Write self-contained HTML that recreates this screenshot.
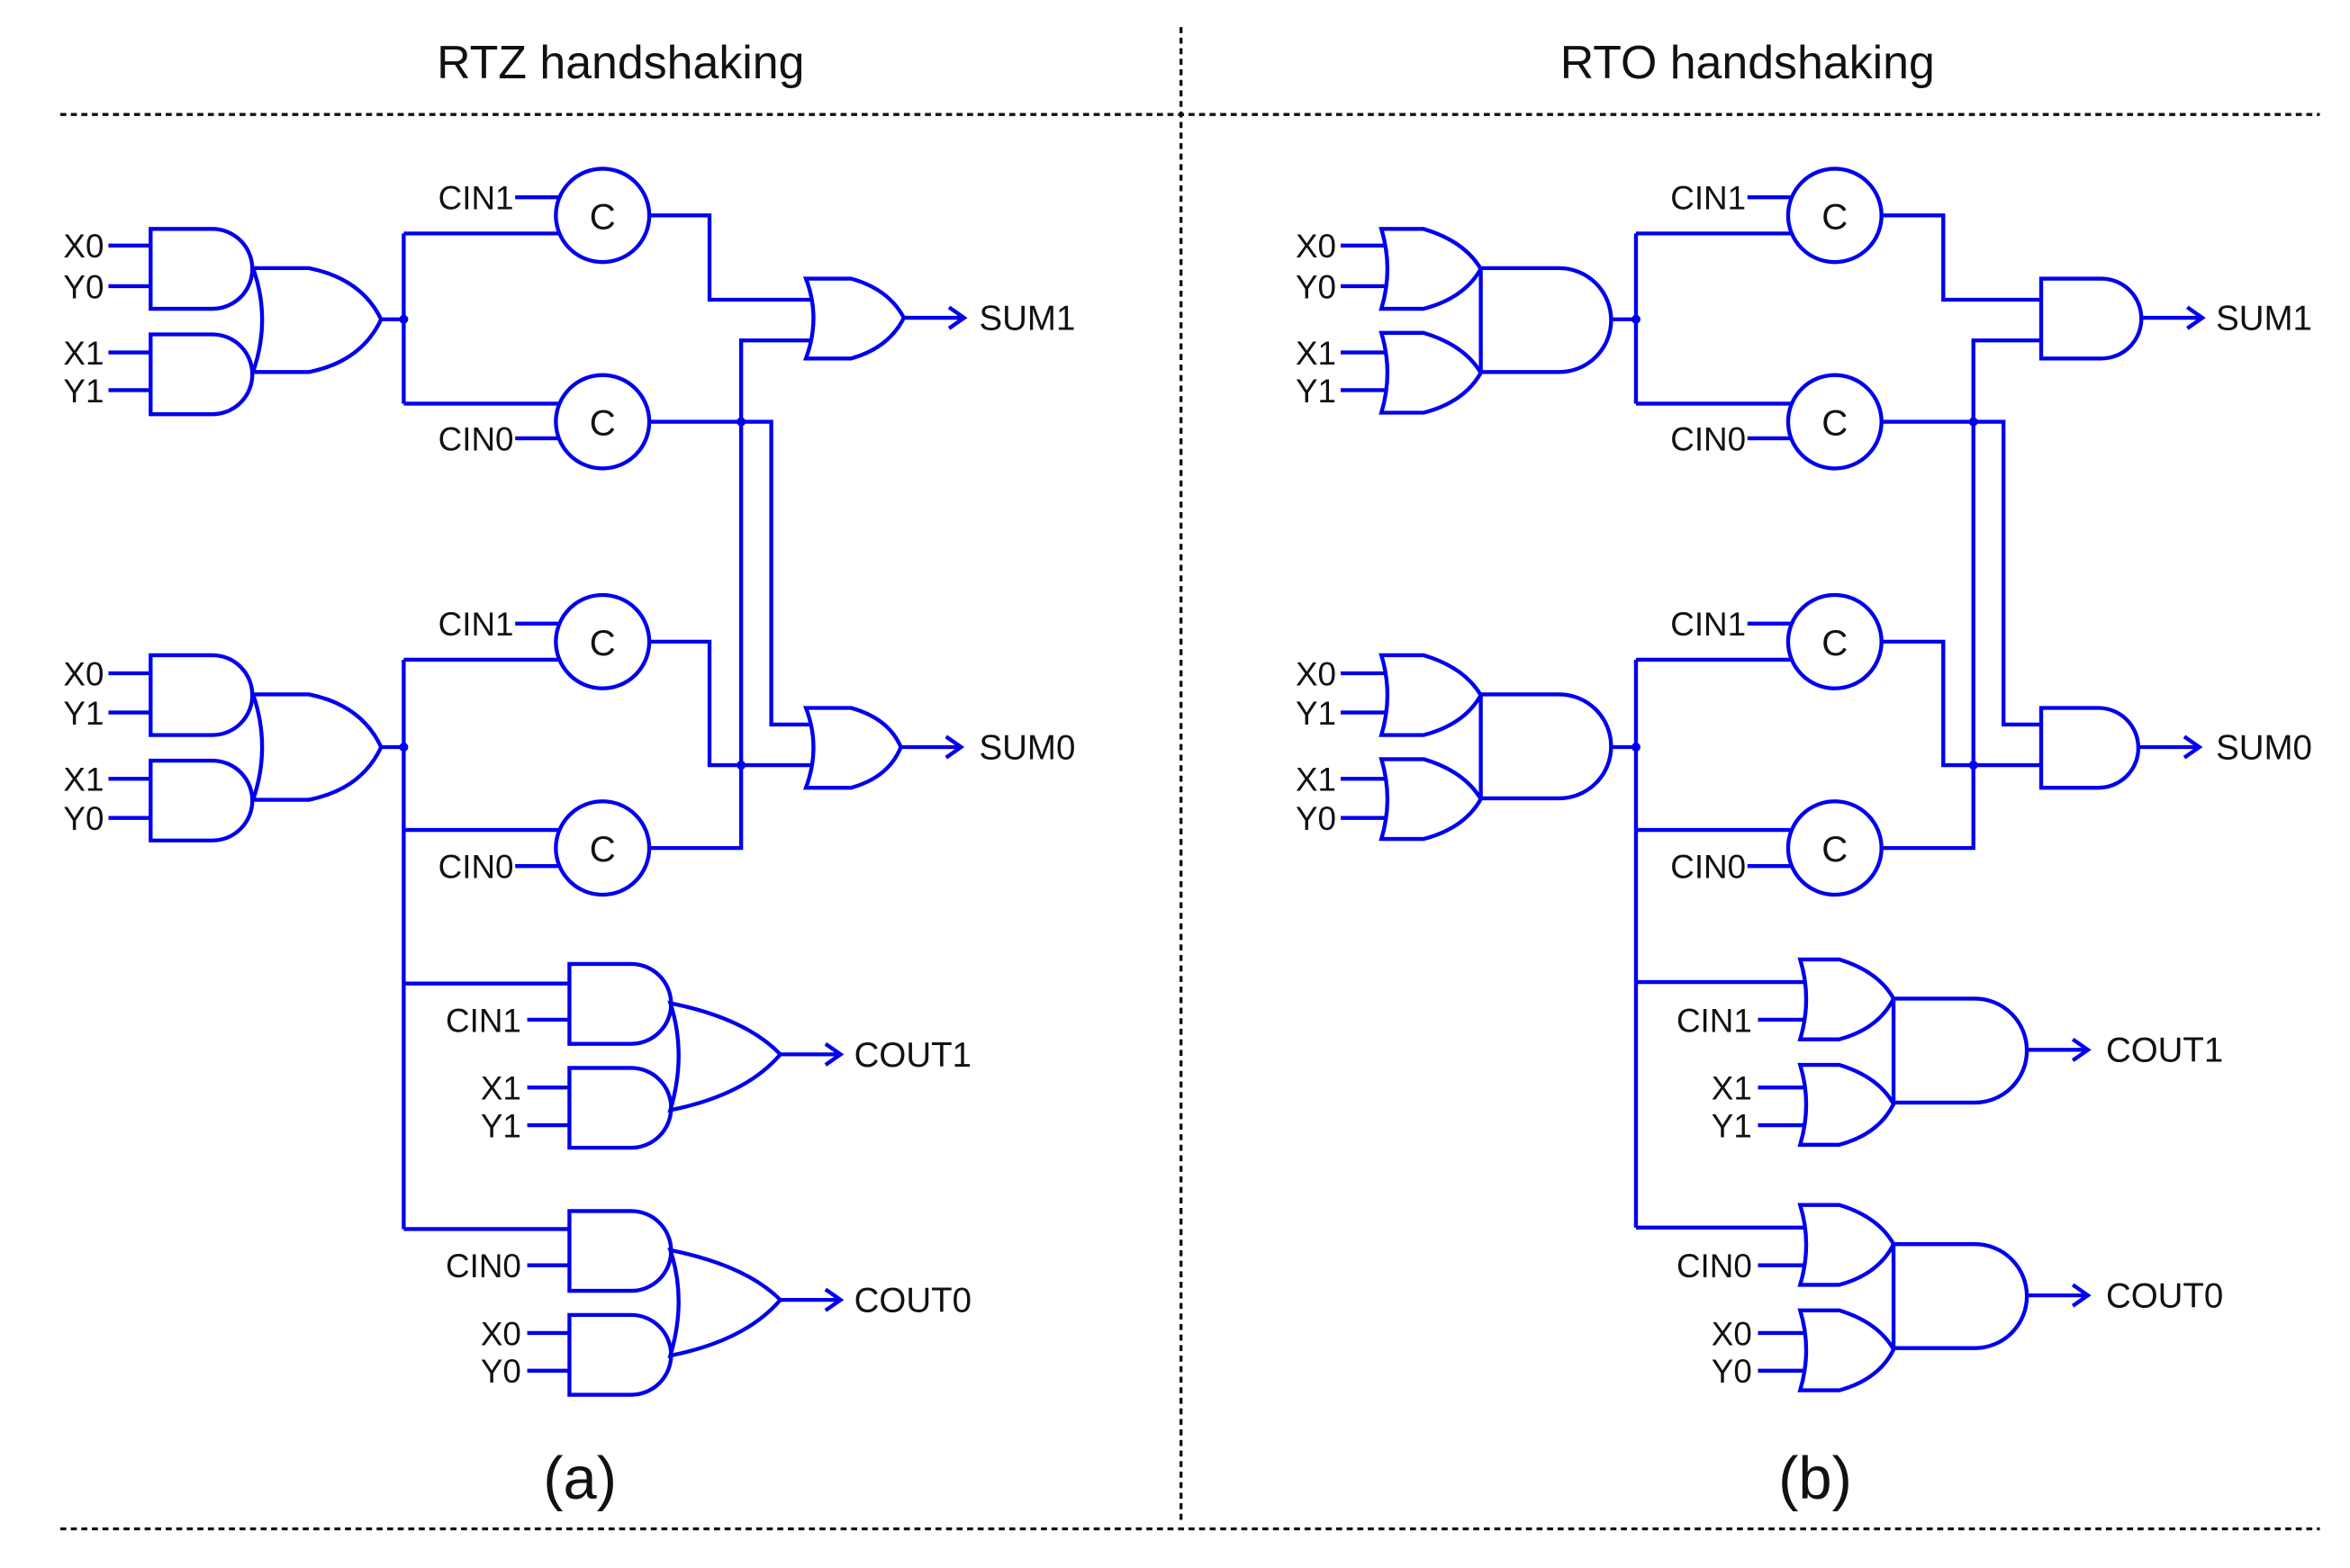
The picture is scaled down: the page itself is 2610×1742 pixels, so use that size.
<!DOCTYPE html>
<html><head><meta charset="utf-8"><style>
html,body{margin:0;padding:0;background:#fff;}
svg{display:block;}
text{font-family:"Liberation Sans",Arial,sans-serif;fill:#111;}
</style></head><body>
<svg width="2610" height="1742" viewBox="0 0 1560 1041" preserveAspectRatio="none" xmlns="http://www.w3.org/2000/svg">
<defs>
<path id="and1" d="M0,0 H41 A26.5,26.5 0 0 1 41,53 H0 Z"/>
<path id="or1" d="M0,0 H28 Q55,8 66,26.5 Q55,46 28,53 H0 Q8,26.5 0,0 Z"/>
<path id="arr" d="M0,0 H40 M30,-7 L40,0 L30,7"/>
</defs>
<g stroke="#111" stroke-width="2" stroke-dasharray="4,3" fill="none">
<line x1="40" y1="76" x2="1540" y2="76"/>
<line x1="40" y1="1015" x2="1540" y2="1015"/>
<line x1="784" y1="18" x2="784" y2="1012"/>
</g>
<text x="412" y="52" font-size="31" text-anchor="middle">RTZ handshaking</text>
<text x="1160" y="52" font-size="31" text-anchor="middle">RTO handshaking</text>
<text x="385" y="995" font-size="40" text-anchor="middle">(a)</text>
<text x="1205" y="995" font-size="40" text-anchor="middle">(b)</text>

<!-- LEFT PANEL -->
<g stroke="#0000ee" stroke-width="2.6" fill="none">
<use href="#and1" x="100" y="152"/><use href="#and1" x="100" y="222"/>
<path d="M168,178 H205 Q240,185 253,212 Q240,240 205,247 H168 Q180,212 168,178 Z"/>
<use href="#and1" x="100" y="435"/><use href="#and1" x="100" y="505"/>
<path d="M168,461 H205 Q240,468 253,496 Q240,524 205,531 H168 Q180,496 168,461 Z"/>
<path d="M72,163H100 M72,190H100 M72,234H100 M72,259H100"/>
<path d="M72,447H100 M72,473H100 M72,517H100 M72,543H100"/>
<path d="M253,212H268 M268,155V268 M268,155H372 M268,268H372"/>
<path d="M253,496H268 M268,438V816 M268,438H372 M268,551H372 M268,653H378 M268,816H378"/>
<path d="M342,131H372 M342,291H372 M342,414H372 M342,575H372"/>
<circle cx="400" cy="143" r="31"/><circle cx="400" cy="280" r="31"/>
<circle cx="400" cy="426" r="31"/><circle cx="400" cy="563" r="31"/>
<path d="M431,143H471V199H538 M431,280H512V481H538 M431,426H471V508H538 M431,563H492V226H538"/>
<path d="M535,185 H565 Q590,192 600,211 Q590,231 565,238 H535 Q545,211 535,185 Z"/>
<path d="M535,470 H565 Q590,477 598,496 Q590,516 565,523 H535 Q545,496 535,470 Z"/>
<use href="#arr" x="600" y="211"/><use href="#arr" x="598" y="496"/>
<use href="#and1" x="378" y="640"/><use href="#and1" x="378" y="709"/>
<path d="M445,666 Q495,676 518,700 Q495,727 445,737 Q456,700 445,666 Z"/>
<path d="M350,677H378 M350,722H378 M350,747H378"/>
<use href="#arr" x="518" y="700"/>
<use href="#and1" x="378" y="804"/><use href="#and1" x="378" y="873"/>
<path d="M445,830 Q495,840 518,863 Q495,890 445,900 Q456,863 445,830 Z"/>
<path d="M350,840H378 M350,885H378 M350,910H378"/>
<use href="#arr" x="518" y="863"/>
</g>
<g fill="#0000ee"><circle cx="268" cy="212" r="3"/><circle cx="268" cy="496" r="3"/><circle cx="492" cy="280" r="3"/><circle cx="492" cy="508" r="3"/></g>
<g font-size="24" text-anchor="middle">
<text x="400" y="152">C</text><text x="400" y="289">C</text><text x="400" y="435">C</text><text x="400" y="572">C</text>
<text x="1218" y="152">C</text><text x="1218" y="289">C</text><text x="1218" y="435">C</text><text x="1218" y="572">C</text>
</g>
<g font-size="22" text-anchor="end">
<text x="69" y="171">X0</text><text x="69" y="198">Y0</text><text x="69" y="242">X1</text><text x="69" y="267">Y1</text>
<text x="69" y="455">X0</text><text x="69" y="481">Y1</text><text x="69" y="525">X1</text><text x="69" y="551">Y0</text>
<text x="341" y="139">CIN1</text><text x="341" y="299">CIN0</text><text x="341" y="422">CIN1</text><text x="341" y="583">CIN0</text>
<text x="346" y="685">CIN1</text><text x="346" y="730">X1</text><text x="346" y="755">Y1</text>
<text x="346" y="848">CIN0</text><text x="346" y="893">X0</text><text x="346" y="918">Y0</text>
</g>
<g font-size="23">
<text x="650" y="219">SUM1</text><text x="650" y="504">SUM0</text>
<text x="567" y="708">COUT1</text><text x="567" y="871">COUT0</text>
</g>

<!-- RIGHT PANEL -->
<g stroke="#0000ee" stroke-width="2.6" fill="none">
<use href="#or1" x="917" y="152"/><use href="#or1" x="917" y="221"/>
<path d="M983,178 H1035 A34.5,34.5 0 0 1 1035,247 H983 Z"/>
<use href="#or1" x="917" y="435"/><use href="#or1" x="917" y="504"/>
<path d="M983,461 H1035 A34.5,34.5 0 0 1 1035,530 H983 Z"/>
<path d="M890,163H920 M890,190H920 M890,234H920 M890,259H920"/>
<path d="M890,447H920 M890,473H920 M890,517H920 M890,543H920"/>
<path d="M1070,212H1086 M1086,155V268 M1086,155H1190 M1086,268H1190"/>
<path d="M1070,496H1086 M1086,438V815 M1086,438H1190 M1086,551H1190 M1086,652H1198 M1086,815H1198"/>
<path d="M1160,131H1190 M1160,291H1190 M1160,414H1190 M1160,575H1190"/>
<circle cx="1218" cy="143" r="31"/><circle cx="1218" cy="280" r="31"/>
<circle cx="1218" cy="426" r="31"/><circle cx="1218" cy="563" r="31"/>
<path d="M1249,143H1290V199H1355 M1249,280H1330V481H1355 M1249,426H1290V508H1355 M1249,563H1310V226H1355"/>
<path d="M1355,185 H1395 A26.5,26.5 0 0 1 1395,238 H1355 Z"/>
<path d="M1355,470 H1393 A26.5,26.5 0 0 1 1393,523 H1355 Z"/>
<use href="#arr" x="1422" y="211"/><use href="#arr" x="1420" y="496"/>
<path d="M1195,637 H1221 Q1247,645 1257,663 Q1247,683 1221,690 H1195 Q1203,663 1195,637 Z"/>
<path d="M1195,707 H1221 Q1247,715 1257,733 Q1247,753 1221,760 H1195 Q1203,733 1195,707 Z"/>
<path d="M1257,663 H1311 A34.5,34.5 0 0 1 1311,732 H1257 Z"/>
<path d="M1167,677H1198 M1167,722H1198 M1167,747H1198"/>
<use href="#arr" x="1346" y="697"/>
<path d="M1195,800 H1221 Q1247,808 1257,826 Q1247,846 1221,853 H1195 Q1203,826 1195,800 Z"/>
<path d="M1195,870 H1221 Q1247,878 1257,896 Q1247,916 1221,923 H1195 Q1203,896 1195,870 Z"/>
<path d="M1257,826 H1311 A34.5,34.5 0 0 1 1311,895 H1257 Z"/>
<path d="M1167,840H1198 M1167,885H1198 M1167,910H1198"/>
<use href="#arr" x="1346" y="860"/>
</g>
<g fill="#0000ee"><circle cx="1086" cy="212" r="3"/><circle cx="1086" cy="496" r="3"/><circle cx="1310" cy="280" r="3"/><circle cx="1310" cy="508" r="3"/></g>
<g font-size="22" text-anchor="end">
<text x="887" y="171">X0</text><text x="887" y="198">Y0</text><text x="887" y="242">X1</text><text x="887" y="267">Y1</text>
<text x="887" y="455">X0</text><text x="887" y="481">Y1</text><text x="887" y="525">X1</text><text x="887" y="551">Y0</text>
<text x="1159" y="139">CIN1</text><text x="1159" y="299">CIN0</text><text x="1159" y="422">CIN1</text><text x="1159" y="583">CIN0</text>
<text x="1163" y="685">CIN1</text><text x="1163" y="730">X1</text><text x="1163" y="755">Y1</text>
<text x="1163" y="848">CIN0</text><text x="1163" y="893">X0</text><text x="1163" y="918">Y0</text>
</g>
<g font-size="23">
<text x="1471" y="219">SUM1</text><text x="1471" y="504">SUM0</text>
<text x="1398" y="705">COUT1</text><text x="1398" y="868">COUT0</text>
</g>
</svg>
</body></html>
